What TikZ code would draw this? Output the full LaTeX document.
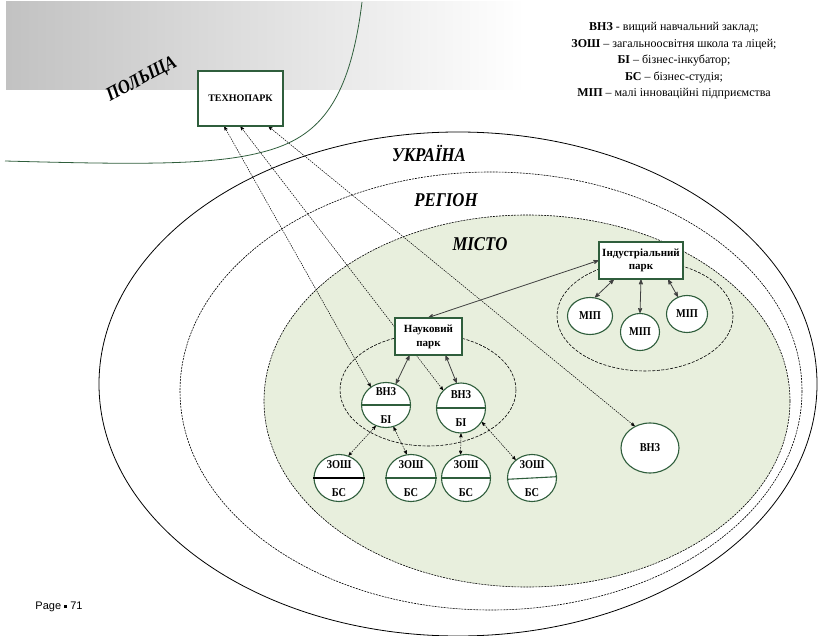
\documentclass[tikz,border=0pt]{standalone}
\usepackage{fontspec}
\setmainfont{Liberation Serif}
\newfontfamily\condfont[FakeStretch=0.86]{Liberation Serif}
\newfontfamily\pagefont{Liberation Sans}
\usetikzlibrary{arrows,shapes.geometric,backgrounds}
\definecolor{parkgreen}{RGB}{47,94,60}
\definecolor{cityfill}{RGB}{232,239,221}
\definecolor{linkgray}{RGB}{64,64,64}
% two names in one ellipse, upper and lower half
\newcommand{\halftext}[2]{\smash{\raisebox{-1.5pt}{\begin{tabular}{@{}c@{}}#1\\#2\end{tabular}}}}
\tikzset{
  textnode/.style = {align=center, inner sep=0pt, text centered},
  % park boxes: white rectangle, dark green frame
  park_B/.style = {textnode, rectangle, draw=parkgreen, fill=white, line width=1.1pt, font=\fontsize{11}{14}\selectfont\bfseries},
  % ellipses with a line across
  split_E/.style = {textnode, ellipse, draw=parkgreen, fill=white, line width=1.1pt, font=\condfont\fontsize{12}{28}\selectfont\bfseries},
  firm_E/.style = {textnode, ellipse, draw=parkgreen, fill=white, line width=1.1pt, font=\condfont\fontsize{12}{14}\selectfont\bfseries},
  area_L/.style = {font=\condfont\fontsize{19.5}{22}\selectfont\bfseries\itshape},
  link_S/.style = {<->, >=stealth', linkgray, line width=0.8pt},
  link_D/.style = {<->, >=stealth', black, line width=0.5pt, dash pattern=on 1.5pt off 1pt}
}
\begin{document}
\begin{tikzpicture}[x=1pt, y=-1pt]
  \useasboundingbox (0,0) rectangle (819,636);
  % Areas names
  \node [area_L] (ua) at (429,153) {УКРАЇНА};
  \node [area_L] (reg) at (446,200) {РЕГІОН};
  \node [area_L] (city) at (480,244) {МІСТО};
  \node [area_L, rotate=28] (pl) at (142,80) {ПОЛЬЩА};
  % Legend
  \node [textnode, font=\fontsize{12}{16.5}\selectfont] (leg) at (674,61)
    {\textbf{ВНЗ} - вищий навчальний заклад;\\
     \textbf{ЗОШ} -- загальноосвітня школа та ліцей;\\
     \textbf{БІ} -- бізнес-інкубатор;\\
     \textbf{БС} -- бізнес-студія;\\
     \textbf{МІП} -- малі інноваційні підприємства};
  % Parks
  \node [park_B, minimum width=85pt, minimum height=55pt, font=\fontsize{10}{12}\selectfont\bfseries] (tp) at (240.5,98.5) {ТЕХНОПАРК};
  \node [park_B, minimum width=67pt, minimum height=37pt] (sp) at (428.5,336.5) {Науковий\\парк};
  \node [park_B, minimum width=84pt, minimum height=37pt, font=\fontsize{11}{13}\selectfont\bfseries] (ip) at (641,260.5) {Індустріальний\\парк};
  % Universities with incubators
  \node [split_E, minimum width=49pt, minimum height=45pt] (v1) at (386,405) {\halftext{ВНЗ}{БІ}};
  \node [split_E, minimum width=49pt, minimum height=50pt] (v2) at (461,408) {\halftext{ВНЗ}{БІ}};
  \node [firm_E, minimum width=58pt, minimum height=50pt] (v0) at (650,448) {ВНЗ};
  % Schools with studios
  \node [split_E, minimum width=50pt, minimum height=47pt] (z1) at (339,478) {\halftext{ЗОШ}{БС}};
  \node [split_E, minimum width=50pt, minimum height=47pt] (z2) at (411,478) {\halftext{ЗОШ}{БС}};
  \node [split_E, minimum width=49pt, minimum height=47pt] (z3) at (466,478) {\halftext{ЗОШ}{БС}};
  \node [split_E, minimum width=49pt, minimum height=47pt] (z4) at (532,478) {\halftext{ЗОШ}{БС}};
  % Small firms
  \node [firm_E, minimum width=45pt, minimum height=37pt] (m1) at (590,316) {МІП};
  \node [firm_E, minimum width=39pt, minimum height=37pt] (m2) at (640,332) {МІП};
  \node [firm_E, minimum width=41pt, minimum height=37pt] (m3) at (687,314) {МІП};
  % Page number
  \node [font=\pagefont\fontsize{11}{13}\selectfont] (pg) at (59,607) {Page \raisebox{1.5pt}{\rule{3pt}{3pt}} 71};
  % Lines across ellipses
  \draw [black, line width=1.1pt] (z1.west) -- (z1.east);
  \foreach \n in {v1,v2,z2,z3}
    \draw [parkgreen, line width=1.1pt] (\n.west) -- (\n.east);
  \draw [parkgreen, line width=1.1pt] (z4.183) -- (z4.3);
  \begin{scope}[on background layer]
    % Poland
    \shade [left color=black!24, right color=white] (6,2) rectangle (525,90);
    \draw [parkgreen, line width=0.8pt] (5,161) .. controls (150,165) and (220,165) .. (270,150)
      .. controls (320,135) and (350,100) .. (362,2);
    % Ukraine, region, city
    \draw [line width=0.8pt] (458,384) ellipse [x radius=359, y radius=252];
    \draw [line width=0.6pt, dash pattern=on 2pt off 1pt] (491,391) ellipse [x radius=311, y radius=219];
    \draw [fill=cityfill, line width=0.6pt, dash pattern=on 2pt off 1pt] (527,401) ellipse [x radius=263, y radius=186];
    % Park zones
    \draw [line width=0.6pt, dash pattern=on 3pt off 1.5pt] (428,390) ellipse [x radius=88, y radius=56];
    \draw [line width=0.6pt, dash pattern=on 3pt off 1.5pt] (645,316) ellipse [x radius=88, y radius=55];
    % Links to technopark
    \draw [link_D] (tp.240) -- (v1.130);
    \draw [link_D] (tp.270) -- (v2.135);
    \draw [link_D] (tp.315) -- (v0.125);
    % Science park links
    \draw [link_S] (sp.north) -- (ip.west);
    \draw [link_S] (sp.225) -- (v1.65);
    \draw [link_S] (sp.312) -- (v2.100);
    % Incubators to schools
    \draw [link_D] (v1.244) -- (z1.67);
    \draw [link_D] (v1.289) -- (z2.100);
    \draw [link_D] (v2.270) -- (z3.103);
    \draw [link_D] (v2.326) -- (z4.132);
    % Industrial park to firms
    \draw [link_S] (ip.215) -- (m1.75);
    \draw [link_S] (ip.270) -- (m2.90);
    \draw [link_S] (ip.325) -- (m3.118);
  \end{scope}
\end{tikzpicture}
\end{document}
